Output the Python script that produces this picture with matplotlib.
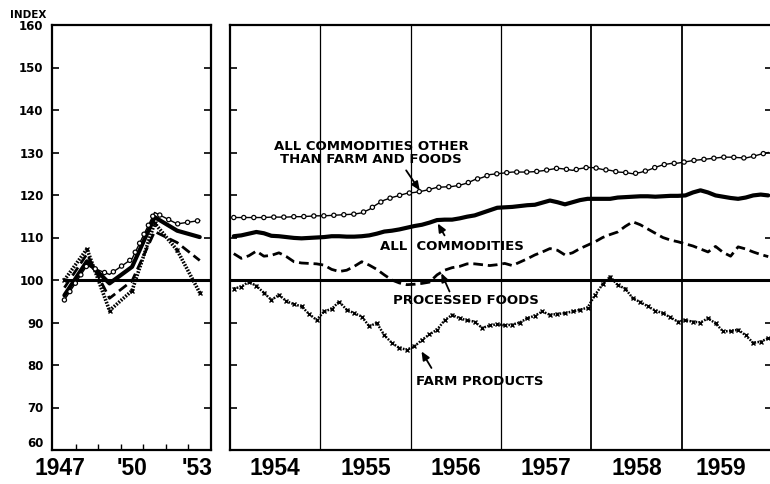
import matplotlib
matplotlib.use("Agg")
import matplotlib.pyplot as plt
from matplotlib import font_manager
import numpy as np

plt.rcParams['font.family'] = ['DejaVu Sans']
plt.rcParams['lines.scale_dashes'] = False

# ---------------- data ----------------
# Annual averages 1947-1953 (left panel)
years_a = [1947, 1948, 1949, 1950, 1951, 1952, 1953]
all_a = [96.4, 104.4, 99.2, 103.1, 114.8, 111.6, 110.1]
other_a = [95.3, 103.4, 101.3, 105.0, 115.9, 113.2, 114.0]
proc_a = [98.2, 106.1, 95.7, 99.8, 111.4, 108.8, 104.6]
farm_a = [100.0, 107.3, 92.8, 97.5, 113.4, 107.0, 97.0]

# Monthly 1954-1959 (right panel)
years_m = [1954, 1955, 1956, 1957, 1958, 1959]
other_m = [114.7, 114.7, 114.7, 114.7, 114.7, 114.8, 114.8, 114.8, 114.9, 114.9, 115.0, 115.1,
           115.1, 115.2, 115.3, 115.4, 115.5, 115.8, 116.6, 117.8, 118.8, 119.4, 119.9, 120.4,
           120.6, 120.9, 121.3, 121.8, 121.9, 122.0, 122.3, 122.8, 123.6, 124.1, 124.8, 125.0,
           125.2, 125.4, 125.4, 125.4, 125.5, 125.7, 126.0, 126.3, 126.1, 125.8, 126.2, 126.5,
           126.4, 126.0, 125.8, 125.4, 125.3, 125.0, 125.3, 125.8, 126.5, 127.1, 127.4, 127.5,
           127.8, 128.1, 128.3, 128.5, 128.7, 128.9, 128.9, 128.8, 128.7, 129.1, 129.6, 130.0]
all_m = [110.3, 110.5, 110.9, 111.3, 111.0, 110.4, 110.3, 110.1, 109.9, 109.8, 109.9, 110.0,
         110.1, 110.3, 110.3, 110.2, 110.2, 110.3, 110.5, 110.9, 111.4, 111.6, 111.9, 112.3,
         112.7, 113.0, 113.5, 114.1, 114.2, 114.2, 114.5, 114.9, 115.2, 115.8, 116.4, 117.0,
         117.1, 117.2, 117.4, 117.6, 117.7, 118.2, 118.7, 118.3, 117.8, 118.3, 118.8, 119.1,
         119.1, 119.1, 119.1, 119.4, 119.5, 119.6, 119.7, 119.7, 119.6, 119.7, 119.8, 119.8,
         119.9, 120.6, 121.1, 120.6, 119.9, 119.6, 119.3, 119.1, 119.4, 119.9, 120.1, 119.9]
proc_m = [106.2, 105.1, 105.7, 106.8, 105.6, 105.8, 106.4, 105.5, 104.3, 104.0, 103.9, 103.8,
          103.5, 102.5, 102.0, 102.3, 103.2, 104.3, 103.5, 102.5, 101.2, 100.0, 99.3, 98.9,
          99.0, 99.2, 99.5, 101.2, 102.3, 102.9, 103.2, 103.8, 103.8, 103.6, 103.4, 103.6,
          103.9, 103.4, 104.2, 105.0, 105.9, 106.6, 107.4, 107.0, 105.9, 106.4, 107.4, 108.2,
          109.0, 110.0, 110.7, 111.3, 112.6, 113.7, 113.0, 112.0, 111.0, 110.0, 109.4, 109.0,
          108.5, 108.0, 107.3, 106.6, 107.9, 106.5, 105.6, 107.8, 107.3, 106.6, 106.0, 105.5]
farm_m = [98.0, 98.4, 99.6, 98.6, 97.0, 95.3, 96.5, 95.0, 94.3, 93.8, 92.0, 90.6,
          92.6, 93.2, 94.9, 93.0, 92.2, 91.4, 89.1, 89.9, 87.0, 85.2, 84.0, 83.6,
          84.4, 85.9, 87.2, 88.3, 90.5, 91.8, 91.0, 90.5, 90.2, 88.7, 89.3, 89.6,
          89.3, 89.5, 90.0, 91.0, 91.6, 92.6, 91.8, 92.0, 92.2, 92.6, 93.0, 93.5,
          96.5, 99.0, 100.8, 98.8, 98.0, 95.7, 94.8, 93.8, 92.8, 92.2, 91.2, 90.2,
          90.5, 90.2, 90.0, 91.0, 89.8, 87.9, 88.0, 88.3, 87.0, 85.2, 85.5, 86.3]

y_ticks = [60, 70, 80, 90, 100, 110, 120, 130, 140, 150, 160]
left_labels = ["1947", "'50", "'53"]
right_labels = ["1954", "1955", "1956", "1957", "1958", "1959"]

# ---------------- helpers ----------------
def circle_line(ax, x, y):
    ax.plot(x, y, color='black', lw=1.0, zorder=3)
    ax.plot(x, y, color='black', lw=4.0, ls=(0, (0.01, 7.2)),
            dash_capstyle='round', zorder=4)
    ax.plot(x, y, color='white', lw=2.2, ls=(0, (0.01, 7.2)),
            dash_capstyle='round', zorder=5)

def x_line(ax, x, y, lw=1.8, ms=3.2):
    ax.plot(x, y, color='black', lw=lw, ls=(0, (1.2, 1.0)), zorder=3)
    ax.plot(x, y, color='black', ls='none', marker='x', ms=ms, mew=1.0, zorder=3)

def dash_line(ax, x, y):
    ax.plot(x, y, color='black', lw=2.0, ls=(0, (7, 3.5)), zorder=3)

def solid_line(ax, x, y):
    ax.plot(x, y, color='black', lw=3.0, solid_joinstyle='round',
            solid_capstyle='round', zorder=3)

names = {f.name for f in font_manager.fontManager.ttflist}
if 'Liberation Sans Narrow' in names:
    yr_font, yr_size = 'Liberation Sans Narrow', 19
else:
    yr_font, yr_size = 'Liberation Sans', 16.5

W, H = 770, 484
fig = plt.figure(figsize=(W / 100, H / 100), dpi=100)
bottom = 1 - 450 / H
height = (450 - 25) / H
ax1 = fig.add_axes([52 / W, bottom, (211 - 52) / W, height])
ax2 = fig.add_axes([230 / W, bottom, (772 - 230) / W, height])

for ax in (ax1, ax2):
    ax.set_ylim(60, 160)
    for s in ax.spines.values():
        s.set_linewidth(1.6)
    ax.set_yticks(y_ticks)
    ax.tick_params(axis='y', direction='in', length=5, width=1.2,
                   left=True, right=True)

# ---------------- left panel ----------------
xa = np.array(years_a) + 0.5
ax1.set_xlim(1946.95, 1954.0)
ax1.axhline(100, xmin=0.08, color='black', lw=2.2, zorder=2)
x_line(ax1, xa, farm_a, lw=2.6, ms=3.5)
dash_line(ax1, xa, proc_a)
solid_line(ax1, xa, all_a)
circle_line(ax1, xa, other_a)
ax1.set_yticklabels([str(v) for v in y_ticks], fontsize=8.5, fontweight='bold')
ax1.tick_params(axis='y', pad=6)
for t in ax1.get_yticklabels():
    if t.get_text() == '60':
        t.set_va('bottom')
ax1.set_xticks([1947.3, 1950.5, 1953.4])
ax1.set_xticklabels(left_labels, fontsize=yr_size, fontweight='bold', family=yr_font)
ax1.set_xticks(range(1948, 1954), minor=True)
ax1.tick_params(axis='x', which='major', length=0, pad=5)
ax1.tick_params(axis='x', which='minor', direction='in', length=4, width=1.0)

# ---------------- right panel ----------------
xm = np.array([y + (m + 0.5) / 12 for y in years_m for m in range(12)])
ax2.set_xlim(1954, 1960)
ax2.axhline(100, color='black', lw=2.2, zorder=2)
for yr in years_m[1:]:
    ax2.axvline(yr, color='black', lw=0.9 if yr < 1958 else 1.3, zorder=1)
x_line(ax2, xm, farm_m)
dash_line(ax2, xm, proc_m)
solid_line(ax2, xm, all_m)
circle_line(ax2, xm, other_m)
ax2.set_yticklabels([])
ax2.set_xticks([y + 0.5 for y in years_m[:-1]] + [1959.43])
ax2.set_xticklabels(right_labels, fontsize=yr_size, fontweight='bold', family=yr_font)
ax2.tick_params(axis='x', length=0, pad=5)

lab = dict(fontsize=9.5, fontweight='bold', ha='center', va='center', zorder=6)
arr = dict(arrowstyle='-|>,head_length=0.5,head_width=0.22', color='black', lw=1.3,
           shrinkA=0, shrinkB=0)
ax2.text(1955.56, 129.9, "ALL COMMODITIES OTHER\nTHAN FARM AND FOODS",
         linespacing=1.05, **lab)
ax2.annotate('', xy=(1956.10, 121.1), xytext=(1955.95, 125.8), arrowprops=arr)
ax2.text(1956.46, 107.8, "ALL  COMMODITIES", **lab)
ax2.annotate('', xy=(1956.30, 113.3), xytext=(1956.375, 110.5), arrowprops=arr)
ax2.text(1956.61, 95.1, "PROCESSED FOODS", **lab)
ax2.annotate('', xy=(1956.34, 101.6), xytext=(1956.43, 97.3), arrowprops=arr)
ax2.text(1956.76, 76.2, "FARM PRODUCTS", **lab)
ax2.annotate('', xy=(1956.12, 83.2), xytext=(1956.23, 79.3), arrowprops=arr)

fig.text(10 / W, 1 - 15 / H, "INDEX", fontsize=7.5, fontweight='bold',
         ha='left', va='center')

fig.savefig("out.png", dpi=100)
